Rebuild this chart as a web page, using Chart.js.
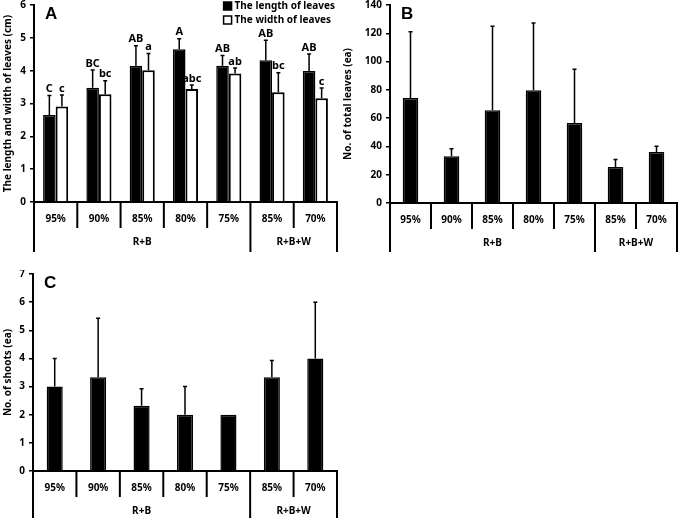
<!DOCTYPE html>
<html>
<head>
<meta charset="utf-8">
<script src="https://cdn.jsdelivr.net/npm/chart.js@4.4.0/dist/chart.umd.min.js"></script>
<style>
  body { margin: 0; background: #fff; }
  #page { position: relative; width: 685px; height: 521px; }
  .panel { position: absolute; }
</style>
</head>
<body>
<div id="page">
  <div class="panel" style="left:0;top:0;width:345px;height:255px"><canvas id="chartA"></canvas></div>
  <div class="panel" style="left:340px;top:0;width:345px;height:255px"><canvas id="chartB"></canvas></div>
  <div class="panel" style="left:0;top:270px;width:345px;height:251px"><canvas id="chartC"></canvas></div>
</div>
<script>
// categories (light ratio) and the treatment groups below them
const categories = ['95%', '90%', '85%', '80%', '75%', '85%', '70%'];
const groupLabels = ['R+B', 'R+B+W'];
const groupSizes = [5, 2];

// A: leaf length / width (cm)
const leafLength = [2.65, 3.48, 4.15, 4.65, 4.15, 4.32, 3.99];
const leafLengthErr = [0.59, 0.54, 0.61, 0.32, 0.31, 0.61, 0.52];
const leafWidth = [2.91, 3.28, 4.01, 3.44, 3.91, 3.34, 3.16];
const leafWidthErr = [0.35, 0.41, 0.51, 0.12, 0.17, 0.60, 0.31];
const lengthLetters = ['C', 'BC', 'AB', 'A', 'AB', 'AB', 'AB'];
const widthLetters = ['c', 'bc', 'a', 'abc', 'ab', 'bc', 'c'];

// B: number of total leaves
const totalLeaves = [74.2, 33.0, 65.5, 79.7, 56.6, 25.5, 36.0];
const totalLeavesErr = [46.8, 5.4, 59.5, 47.6, 37.9, 5.2, 4.1];

// C: number of shoots
const shoots = [3.0, 3.33, 2.32, 2.0, 2.0, 3.33, 4.0];
const shootsErr = [1.0, 2.1, 0.6, 1.0, 0, 0.6, 2.0];

const FONT = '"Noto Sans", sans-serif';

// draws error bars, letters, category boxes, group labels, legend and panel tag
const decorPlugin = {
    id: 'decor',
    afterDatasetsDraw(chart) {
        const ctx = chart.ctx;
        const y = chart.scales.y;
        ctx.save();
        chart.data.datasets.forEach((ds, i) => {
            const meta = chart.getDatasetMeta(i);
            meta.data.forEach((bar, j) => {
                const err = ds.errors ? ds.errors[j] : 0;
                const top = y.getPixelForValue(ds.data[j] + err);
                if (err > 0) {
                    ctx.strokeStyle = '#000';
                    ctx.lineWidth = 1.5;
                    ctx.beginPath();
                    ctx.moveTo(bar.x, bar.y);
                    ctx.lineTo(bar.x, top);
                    ctx.moveTo(bar.x - 2, top);
                    ctx.lineTo(bar.x + 2, top);
                    ctx.stroke();
                }
                if (ds.letters) {
                    ctx.fillStyle = '#000';
                    ctx.font = 'bold 11px ' + FONT;
                    ctx.textAlign = 'center';
                    ctx.textBaseline = 'bottom';
                    ctx.fillText(ds.letters[j], bar.x, top - 1);
                }
            });
        });
        ctx.restore();
    },
    afterDraw(chart, args, opts) {
        const ctx = chart.ctx;
        const area = chart.chartArea;
        const x = chart.scales.x;
        const n = chart.data.labels.length;
        const bounds = [];
        for (let i = 0; i <= n; i++) {
            if (i === 0) bounds.push(area.left);
            else if (i === n) bounds.push(area.right);
            else bounds.push((x.getPixelForValue(i - 1) + x.getPixelForValue(i)) / 2);
        }
        const groupEdges = [0];
        groupSizes.forEach(s => groupEdges.push(groupEdges[groupEdges.length - 1] + s));

        ctx.save();
        ctx.strokeStyle = '#000';
        ctx.lineWidth = 2;
        bounds.forEach((bx, i) => {
            const long = groupEdges.includes(i);
            ctx.beginPath();
            ctx.moveTo(bx, area.bottom);
            ctx.lineTo(bx, area.bottom + (long ? opts.longDrop : 26));
            ctx.stroke();
        });
        ctx.fillStyle = '#000';
        ctx.font = 'bold 10px ' + FONT;
        ctx.textAlign = 'center';
        ctx.textBaseline = 'middle';
        groupLabels.forEach((g, k) => {
            const cx = (bounds[groupEdges[k]] + bounds[groupEdges[k + 1]]) / 2;
            ctx.fillText(g, cx, area.bottom + 40);
        });

        // panel tag
        ctx.font = 'bold 17px "Liberation Sans", Arial, sans-serif';
        ctx.textAlign = 'left';
        ctx.textBaseline = 'top';
        ctx.fillText(opts.tag, area.left + 11, area.top + 1);

        // legend (only when more than one series)
        const sets = chart.data.datasets;
        if (sets.length > 1) {
            ctx.font = 'bold 10px ' + FONT;
            const maxW = Math.max(...sets.map(s => ctx.measureText(s.label).width));
            const lx = area.right - maxW - 13;
            sets.forEach((s, i) => {
                const ly = area.top + 1 + i * 14;
                ctx.fillStyle = s.backgroundColor;
                ctx.fillRect(lx, ly - 4, 8, 8);
                ctx.lineWidth = 1.5;
                ctx.strokeRect(lx, ly - 4, 8, 8);
                ctx.fillStyle = '#000';
                ctx.textBaseline = 'middle';
                ctx.fillText(s.label, lx + 11, ly);
            });
        }
        ctx.restore();
    }
};

function makePanel(id, datasets, cfg) {
    new Chart(document.getElementById(id), {
        type: 'bar',
        data: { labels: categories, datasets: datasets },
        options: {
            responsive: true,
            maintainAspectRatio: false,
            animation: false,
            layout: { padding: { top: cfg.top, right: 8, bottom: 0, left: 0 } },
            datasets: { bar: { categoryPercentage: cfg.catPct, barPercentage: 1.0 } },
            plugins: {
                legend: { display: false },
                tooltip: { enabled: false },
                decor: { tag: cfg.tag, longDrop: cfg.xHeight - 3 }
            },
            scales: {
                x: {
                    afterFit: s => { s.height = cfg.xHeight; s.paddingLeft = 0; s.paddingRight = 0; },
                    grid: { display: false, drawTicks: false },
                    border: { display: true, color: '#000', width: 2 },
                    ticks: { color: '#000', padding: 11, font: { family: FONT, size: 10, weight: 'bold' } }
                },
                y: {
                    min: 0,
                    max: cfg.max,
                    afterFit: s => { s.width = cfg.yWidth; s.paddingTop = 0; s.paddingBottom = 0; },
                    ticks: { stepSize: cfg.step, color: '#000', padding: 4, font: { family: FONT, size: 10, weight: 'bold' } },
                    grid: { drawOnChartArea: false, drawTicks: true, tickLength: 4, color: '#000', lineWidth: 1.5 },
                    border: { display: true, color: '#000', width: 2 },
                    title: { display: true, text: cfg.title, color: '#000', padding: { top: 2, bottom: 2 }, font: { family: FONT, size: 10, weight: 'bold' } }
                }
            }
        },
        plugins: [decorPlugin]
    });
}

makePanel('chartA', [{
    label: 'The length of leaves',
    data: leafLength,
    errors: leafLengthErr,
    letters: lengthLetters,
    backgroundColor: '#000',
    borderColor: '#000',
    borderWidth: 1.5
}, {
    label: 'The width of leaves',
    data: leafWidth,
    errors: leafWidthErr,
    letters: widthLetters,
    backgroundColor: '#fff',
    borderColor: '#000',
    borderWidth: 2
}], { tag: 'A', max: 6, step: 1, title: 'The length and width of leaves (cm)', yWidth: 34, xHeight: 53, top: 5, catPct: 0.58 });

makePanel('chartB', [{
    label: 'No. of total leaves',
    data: totalLeaves,
    errors: totalLeavesErr,
    backgroundColor: '#000',
    borderColor: '#000',
    borderWidth: 1.5
}], { tag: 'B', max: 140, step: 20, title: 'No. of total leaves (ea)', yWidth: 50, xHeight: 52, top: 5, catPct: 0.38 });

makePanel('chartC', [{
    label: 'No. of shoots',
    data: shoots,
    errors: shootsErr,
    backgroundColor: '#000',
    borderColor: '#000',
    borderWidth: 1.5
}], { tag: 'C', max: 7, step: 1, title: 'No. of shoots (ea)', yWidth: 33, xHeight: 50, top: 4, catPct: 0.37 });
</script>
</body>
</html>
